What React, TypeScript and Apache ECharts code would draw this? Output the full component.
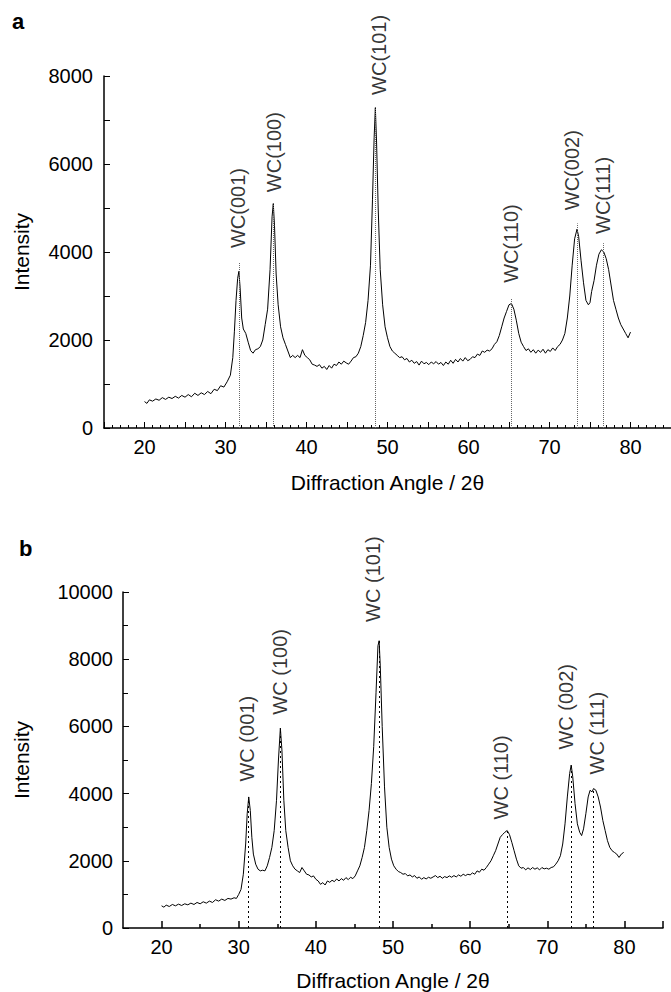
import React, { useEffect, useRef } from "react";
import * as echarts from "echarts";

// ---------- Data: panel a ----------
const curveA: [number, number][] = [
  [20.0, 600], [20.3, 560], [20.6, 640], [21.0, 610], [21.4, 660], [21.8, 630], [22.2, 690], [22.6, 650],
  [23.0, 700], [23.4, 670], [23.8, 720], [24.2, 680], [24.6, 740], [25.0, 700], [25.4, 760], [25.8, 710],
  [26.2, 790], [26.6, 740], [27.0, 800], [27.4, 760], [27.8, 830], [28.2, 780], [28.6, 880], [29.0, 850],
  [29.4, 960], [29.8, 930], [30.2, 1050], [30.6, 1200], [30.9, 1600], [31.1, 2200], [31.3, 2900], [31.5, 3400],
  [31.65, 3560], [31.8, 3200], [32.0, 2500], [32.2, 2250], [32.5, 2150], [32.8, 1950], [33.1, 1760], [33.4, 1700],
  [33.7, 1780], [34.0, 1800], [34.3, 1850], [34.6, 2000], [34.9, 2350], [35.2, 2700], [35.5, 3600], [35.75, 4800],
  [35.9, 5100], [36.05, 4600], [36.25, 3500], [36.5, 2800], [36.8, 2300], [37.1, 2050], [37.4, 1900], [37.7, 1750],
  [38.0, 1600], [38.3, 1650], [38.6, 1600], [38.9, 1650], [39.2, 1600], [39.5, 1780], [39.8, 1650], [40.1, 1600],
  [40.4, 1550], [40.7, 1450], [41.0, 1430], [41.3, 1400], [41.6, 1440], [41.9, 1360], [42.2, 1400], [42.5, 1330],
  [42.8, 1420], [43.1, 1360], [43.4, 1450], [43.7, 1420], [44.0, 1500], [44.3, 1450], [44.6, 1520], [44.9, 1480],
  [45.2, 1450], [45.5, 1520], [45.8, 1600], [46.1, 1620], [46.4, 1700], [46.7, 1850], [47.0, 2100], [47.3, 2400],
  [47.6, 2900], [47.9, 3700], [48.15, 5200], [48.35, 6600], [48.5, 7280], [48.65, 6500], [48.85, 5000], [49.1, 3600],
  [49.4, 2800], [49.7, 2300], [50.0, 2050], [50.3, 1850], [50.6, 1750], [50.9, 1700], [51.2, 1650], [51.5, 1600],
  [51.8, 1620], [52.1, 1550], [52.4, 1580], [52.7, 1500], [53.0, 1540], [53.3, 1470], [53.6, 1510], [53.9, 1430],
  [54.2, 1520], [54.5, 1460], [54.8, 1490], [55.1, 1440], [55.4, 1500], [55.7, 1460], [56.0, 1510], [56.3, 1450],
  [56.6, 1490], [56.9, 1420], [57.2, 1500], [57.5, 1450], [57.8, 1540], [58.1, 1470], [58.4, 1560], [58.7, 1500],
  [59.0, 1580], [59.3, 1520], [59.6, 1600], [59.9, 1530], [60.2, 1560], [60.5, 1620], [60.8, 1600], [61.1, 1680],
  [61.4, 1650], [61.7, 1750], [62.0, 1720], [62.3, 1770], [62.6, 1750], [62.9, 1800], [63.2, 1900], [63.5, 1960],
  [63.8, 2100], [64.1, 2300], [64.4, 2500], [64.7, 2650], [65.0, 2800], [65.3, 2830], [65.6, 2700], [65.9, 2450],
  [66.2, 2150], [66.5, 1950], [66.8, 1850], [67.1, 1760], [67.4, 1800], [67.7, 1720], [68.0, 1780], [68.3, 1700],
  [68.6, 1770], [68.9, 1720], [69.2, 1790], [69.5, 1700], [69.8, 1780], [70.1, 1740], [70.4, 1820], [70.7, 1760],
  [71.0, 1850], [71.3, 1900], [71.6, 2000], [71.9, 2150], [72.2, 2500], [72.5, 3000], [72.8, 3700], [73.1, 4300],
  [73.4, 4520], [73.6, 4350], [73.9, 3800], [74.2, 3300], [74.5, 2900], [74.8, 2800], [75.0, 2850], [75.2, 3100],
  [75.5, 3350], [75.8, 3700], [76.1, 3950], [76.4, 4050], [76.7, 4000], [77.0, 3850], [77.3, 3600], [77.6, 3250],
  [77.9, 2900], [78.2, 2700], [78.5, 2500], [78.8, 2350], [79.1, 2250], [79.4, 2150], [79.7, 2050], [80.0, 2180],
];
// reference lines: [angle, top intensity]
const peakLinesA: [number, number][] = [
  [31.65, 3750], [35.9, 5120], [48.5, 7300], [65.3, 2950], [73.4, 4650], [76.6, 4200],
];
// peak labels: [angle, base intensity, text]
const peakLabelsA: [number, number, string][] = [
  [31.5, 4090, "WC(001)"], [36.0, 5360, "WC(100)"], [49.0, 7570, "WC(101)"],
  [65.3, 3300, "WC(110)"], [72.8, 4950, "WC(002)"], [76.6, 4410, "WC(111)"],
];

// ---------- Data: panel b ----------
const curveB: [number, number][] = [
  [20.0, 660], [20.3, 620], [20.6, 680], [21.0, 640], [21.4, 700], [21.8, 660], [22.2, 710], [22.6, 670],
  [23.0, 720], [23.4, 690], [23.8, 740], [24.2, 700], [24.6, 760], [25.0, 720], [25.4, 780], [25.8, 740],
  [26.2, 800], [26.6, 760], [27.0, 840], [27.4, 800], [27.8, 860], [28.2, 820], [28.6, 880], [29.0, 860],
  [29.4, 900], [29.7, 880], [30.0, 1000], [30.3, 1150], [30.6, 1600], [30.9, 2500], [31.1, 3400], [31.3, 3900],
  [31.5, 3500], [31.7, 2700], [31.9, 2200], [32.2, 1900], [32.5, 1750], [32.8, 1700], [33.1, 1720], [33.4, 1700],
  [33.7, 1850], [34.0, 2100], [34.3, 2400], [34.6, 2900], [34.9, 3800], [35.15, 5000], [35.4, 5950], [35.6, 5300],
  [35.85, 3800], [36.1, 2900], [36.4, 2400], [36.7, 2000], [37.0, 1850], [37.3, 1750], [37.6, 1700], [37.9, 1650],
  [38.2, 1800], [38.5, 1700], [38.8, 1600], [39.1, 1580], [39.4, 1520], [39.7, 1550], [40.0, 1450], [40.3, 1400],
  [40.6, 1300], [40.9, 1350], [41.2, 1280], [41.5, 1400], [41.8, 1360], [42.1, 1420], [42.4, 1380], [42.7, 1460],
  [43.0, 1400], [43.3, 1470], [43.6, 1420], [43.9, 1500], [44.2, 1440], [44.5, 1510], [44.8, 1470], [45.1, 1550],
  [45.4, 1700], [45.7, 1850], [46.0, 2100], [46.3, 2400], [46.6, 2900], [46.9, 3500], [47.2, 4300], [47.5, 5400],
  [47.8, 7000], [48.05, 8400], [48.2, 8550], [48.35, 7800], [48.6, 6000], [48.9, 4200], [49.2, 3000], [49.5, 2400],
  [49.8, 2050], [50.1, 1850], [50.4, 1750], [50.7, 1680], [51.0, 1650], [51.3, 1600], [51.6, 1620], [51.9, 1550],
  [52.2, 1580], [52.5, 1520], [52.8, 1560], [53.1, 1480], [53.4, 1520], [53.7, 1450], [54.0, 1500], [54.3, 1460],
  [54.6, 1510], [54.9, 1480], [55.2, 1520], [55.5, 1560], [55.8, 1500], [56.1, 1540], [56.4, 1480], [56.7, 1530],
  [57.0, 1500], [57.3, 1550], [57.6, 1510], [57.9, 1560], [58.2, 1520], [58.5, 1580], [58.8, 1540], [59.1, 1600],
  [59.4, 1560], [59.7, 1600], [60.0, 1580], [60.3, 1640], [60.6, 1600], [60.9, 1700], [61.2, 1660], [61.5, 1750],
  [61.8, 1720], [62.1, 1800], [62.4, 1900], [62.7, 2000], [63.0, 2150], [63.3, 2300], [63.6, 2500], [63.9, 2700],
  [64.2, 2780], [64.5, 2850], [64.8, 2900], [65.1, 2780], [65.4, 2550], [65.7, 2300], [66.0, 2050], [66.3, 1850],
  [66.6, 1780], [66.9, 1800], [67.2, 1730], [67.5, 1790], [67.8, 1740], [68.1, 1800], [68.4, 1750], [68.7, 1790],
  [69.0, 1730], [69.3, 1800], [69.6, 1760], [69.9, 1780], [70.2, 1750], [70.5, 1800], [70.8, 1820], [71.1, 1900],
  [71.4, 2000], [71.7, 2150], [72.0, 2500], [72.3, 3100], [72.6, 3900], [72.9, 4600], [73.1, 4850], [73.3, 4500],
  [73.6, 3700], [73.9, 3100], [74.2, 2850], [74.45, 2750], [74.7, 2950], [75.0, 3400], [75.3, 3900], [75.55, 4100],
  [75.8, 4050], [76.0, 4150], [76.3, 4100], [76.6, 3900], [76.9, 3600], [77.2, 3200], [77.5, 2900], [77.8, 2600],
  [78.1, 2400], [78.4, 2300], [78.7, 2250], [79.0, 2200], [79.3, 2100], [79.6, 2200], [79.9, 2250],
];
const peakLinesB: [number, number][] = [
  [31.3, 3900], [35.4, 5950], [48.2, 8550], [64.8, 2900], [73.1, 4850], [75.9, 4150],
];
const peakLabelsB: [number, number, string][] = [
  [31.1, 4360, "WC (001)"], [35.4, 6350, "WC (100)"], [47.4, 9110, "WC (101)"],
  [64.0, 3230, "WC (110)"], [72.4, 5310, "WC (002)"], [76.4, 4570, "WC (111)"],
];

// tick label values
const xLabelValues = [20, 30, 40, 50, 60, 70, 80];
const xLongTicksB = [20, 30, 40, 50, 60, 70, 80, 85];
const xShortTicksB = [25, 35, 45, 55, 65, 75];

const FONT = "'Liberation Sans', Arial, Helvetica, sans-serif";
const X_NAME = "Diffraction Angle / 2\u03b8";

export default function App() {
  const ref = useRef<HTMLDivElement>(null);
  useEffect(() => {
    if (!ref.current) return;
    const chart = echarts.init(ref.current, null, { renderer: "svg" });
    const axisLine = { show: true, lineStyle: { color: "#000", width: 1.5 } };
    const labelStyle = { color: "#000", fontSize: 20, fontFamily: FONT };
    const plain = (v: number) => String(v);
    const peakLabel = {
      show: true,
      formatter: "{b}",
      position: "top" as const,
      distance: 0,
      rotate: 90,
      align: "left" as const,
      verticalAlign: "middle" as const,
      color: "#000",
      fontSize: 20,
      fontFamily: FONT,
    };
    chart.setOption({
      animation: false,
      backgroundColor: "#fff",
      textStyle: { fontFamily: FONT },
      graphic: [
        { type: "text", left: 12, top: 10, style: { text: "a", font: `bold 22px ${FONT}`, fill: "#000" } },
        { type: "text", left: 19, top: 537, style: { text: "b", font: `bold 22px ${FONT}`, fill: "#000" } },
      ],
      grid: [
        { left: 104, top: 76, width: 567, height: 352 },
        { left: 123, top: 592, width: 540, height: 337 },
      ],
      xAxis: [
        {
          gridIndex: 0, type: "value", min: 15, max: 85, interval: 5,
          name: X_NAME, nameLocation: "middle", nameGap: 44,
          nameTextStyle: { ...labelStyle, fontSize: 21 },
          axisLine,
          axisTick: { show: true, inside: true, length: 6, lineStyle: { color: "#000" } },
          minorTick: { show: true, splitNumber: 5, length: 3, lineStyle: { color: "#000" } },
          axisLabel: { ...labelStyle, margin: 9, customValues: xLabelValues, formatter: plain },
          splitLine: { show: false },
        },
        {
          gridIndex: 1, type: "value", min: 15, max: 85, interval: 5,
          name: X_NAME, nameLocation: "middle", nameGap: 42,
          nameTextStyle: { ...labelStyle, fontSize: 21 },
          axisLine,
          axisTick: { show: true, inside: true, length: 7, customValues: xLongTicksB, lineStyle: { color: "#000", width: 1.5 } },
          axisLabel: { ...labelStyle, margin: 9, customValues: xLabelValues, formatter: plain },
          splitLine: { show: false },
        },
        {
          gridIndex: 1, type: "value", min: 15, max: 85, interval: 5, position: "bottom",
          axisLine: { show: false },
          axisTick: { show: true, inside: true, length: 4, customValues: xShortTicksB, lineStyle: { color: "#000", width: 1.5 } },
          axisLabel: { show: false },
          splitLine: { show: false },
        },
      ],
      yAxis: [
        {
          gridIndex: 0, type: "value", min: 0, max: 8000, interval: 2000,
          name: "Intensity", nameLocation: "middle", nameGap: 72, nameRotate: 90,
          nameTextStyle: { ...labelStyle, fontSize: 21 },
          axisLine,
          axisTick: { show: true, inside: true, length: 6, lineStyle: { color: "#000" } },
          minorTick: { show: true, splitNumber: 2, length: 6, lineStyle: { color: "#000" } },
          axisLabel: { ...labelStyle, margin: 11, formatter: plain },
          splitLine: { show: false },
        },
        {
          gridIndex: 1, type: "value", min: 0, max: 10000, interval: 2000,
          name: "Intensity", nameLocation: "middle", nameGap: 91, nameRotate: 90,
          nameTextStyle: { ...labelStyle, fontSize: 21 },
          axisLine,
          axisTick: { show: true, inside: true, length: 6, lineStyle: { color: "#000" } },
          minorTick: { show: true, splitNumber: 2, length: 5, lineStyle: { color: "#000" } },
          axisLabel: { ...labelStyle, margin: 10, formatter: plain },
          splitLine: { show: false },
        },
      ],
      series: [
        {
          type: "line", xAxisIndex: 0, yAxisIndex: 0, data: curveA, showSymbol: false, symbol: "none",
          lineStyle: { color: "#000", width: 1 }, z: 3,
          markLine: {
            silent: true, symbol: ["none", "none"], label: { show: false },
            lineStyle: { color: "#666", type: [1, 1], width: 1 },
            data: peakLinesA.map(([x, top]) => [{ coord: [x, 0] }, { coord: [x, top] }]),
          },
        },
        {
          type: "scatter", xAxisIndex: 0, yAxisIndex: 0, symbolSize: 0, silent: true,
          data: peakLabelsA.map(([x, y, name]) => ({ value: [x, y], name })),
          label: peakLabel,
        },
        {
          type: "line", xAxisIndex: 1, yAxisIndex: 1, data: curveB, showSymbol: false, symbol: "none",
          lineStyle: { color: "#000", width: 1 }, z: 3,
          markLine: {
            silent: true, symbol: ["none", "none"], label: { show: false },
            lineStyle: { color: "#000", type: [2, 3], width: 1 },
            data: peakLinesB.map(([x, top]) => [{ coord: [x, 0] }, { coord: [x, top] }]),
          },
        },
        {
          type: "scatter", xAxisIndex: 1, yAxisIndex: 1, symbolSize: 0, silent: true,
          data: peakLabelsB.map(([x, y, name]) => ({ value: [x, y], name })),
          label: peakLabel,
        },
      ],
    });
    return () => chart.dispose();
  }, []);
  return (
    <div
      ref={ref}
      style={{ position: "fixed", left: 0, top: 0, width: 671, height: 992, background: "#fff" }}
    />
  );
}
